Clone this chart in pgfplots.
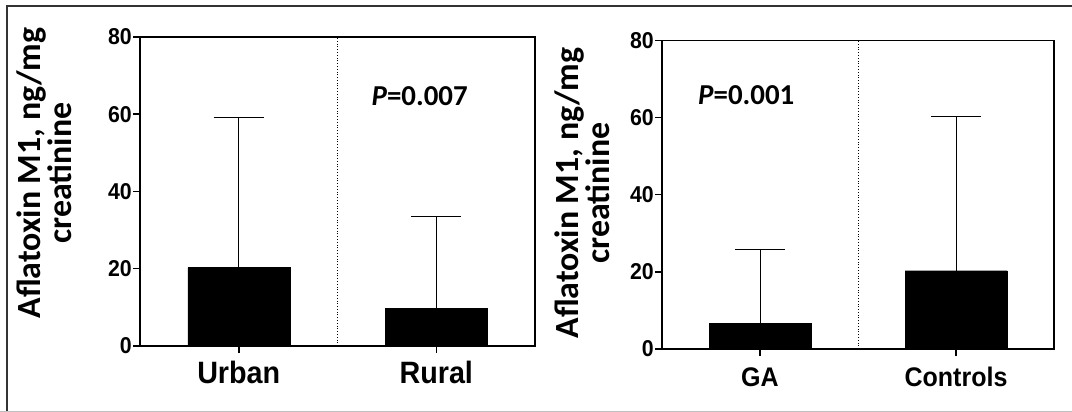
\documentclass[border=0pt]{standalone}
\usepackage{fontspec}
\usepackage{pgfplots}
\pgfplotsset{compat=1.18}
\newfontfamily\lab{Carlito}
\newfontfamily\ari{Liberation Sans}
\newfontfamily\arinarrow{Liberation Sans}[FakeStretch=0.93]
\pgfplotsset{
  myax/.style={
    scale only axis,
    anchor=south west,
    ybar, bar width=102bp,
    xmin=-0.5, xmax=1.5, ymin=0, ymax=80,
    xtick={0,1}, ytick={0,20,40,60,80},
    yticklabels={0,20,40,60,80},
    tick align=outside, xtick pos=bottom, ytick pos=left,
    major tick length=7bp,
    every tick/.style={black, line width=1.5bp},
    axis line style={black, line width=1.5bp},
    yticklabel style={font=\arinarrow\bfseries\fontsize{23}{23}\selectfont, inner sep=1bp},
    xticklabel style={anchor=base},
    clip=false,
  },
  mybar/.style={
    fill=black, draw=black,
    error bars/.cd, y dir=plus, y explicit,
    error mark=-,
    error bar style={line width=1bp, black},
    error mark options={rotate=90, mark size=25bp, line width=1bp, black},
  },
}
\begin{document}
\begin{tikzpicture}
\path[use as bounding box] (0bp,0bp) rectangle (1072bp,412bp);
\draw[line width=2bp, black!80] (7bp,0bp) -- (7bp,406bp) -- (1072bp,406bp);
\draw[line width=1.2bp, black!25] (0bp,0.6bp) -- (1072bp,0.6bp);
\node[rotate=90, align=center, inner sep=0pt, font=\lab\bfseries\fontsize{34}{31}\selectfont] at (44.5bp,239bp) {Aflatoxin M1, ng/mg\\creatinine};
\node[rotate=90, align=center, inner sep=0pt, font=\lab\bfseries\fontsize{34}{31}\selectfont] at (582bp,219bp) {Aflatoxin M1, ng/mg\\creatinine};
\begin{axis}[myax, at={(140bp,66bp)}, width=395bp, height=309bp,
  xticklabels={Urban,Rural},
  xticklabel style={font=\arinarrow\bfseries\fontsize{31}{31}\selectfont, yshift=-30bp}]
\addplot[mybar] coordinates {(0,20.3) +- (0,38.9) (1,9.8) +- (0,23.6)};
\draw[dotted, line width=0.8bp] (axis cs:0.5,0) -- (axis cs:0.5,80);
\node[font=\lab\bfseries\fontsize{29}{29}\selectfont] at (axis cs:0.916,64.7) {\textit{P}=0.007};
\end{axis}
\begin{axis}[myax, at={(662bp,63bp)}, width=392bp, height=308.5bp,
  xticklabels={GA,Controls},
  xticklabel style={font=\arinarrow\bfseries\fontsize{27}{27}\selectfont, yshift=-30bp}]
\addplot[mybar] coordinates {(0,6.7) +- (0,19.2) (1,20.3) +- (0,40.0)};
\draw[dotted, line width=0.8bp] (axis cs:0.5,0) -- (axis cs:0.5,80);
\node[font=\lab\bfseries\fontsize{29}{29}\selectfont] at (axis cs:-0.07,65.9) {\textit{P}=0.001};
\end{axis}
\end{tikzpicture}
\end{document}
